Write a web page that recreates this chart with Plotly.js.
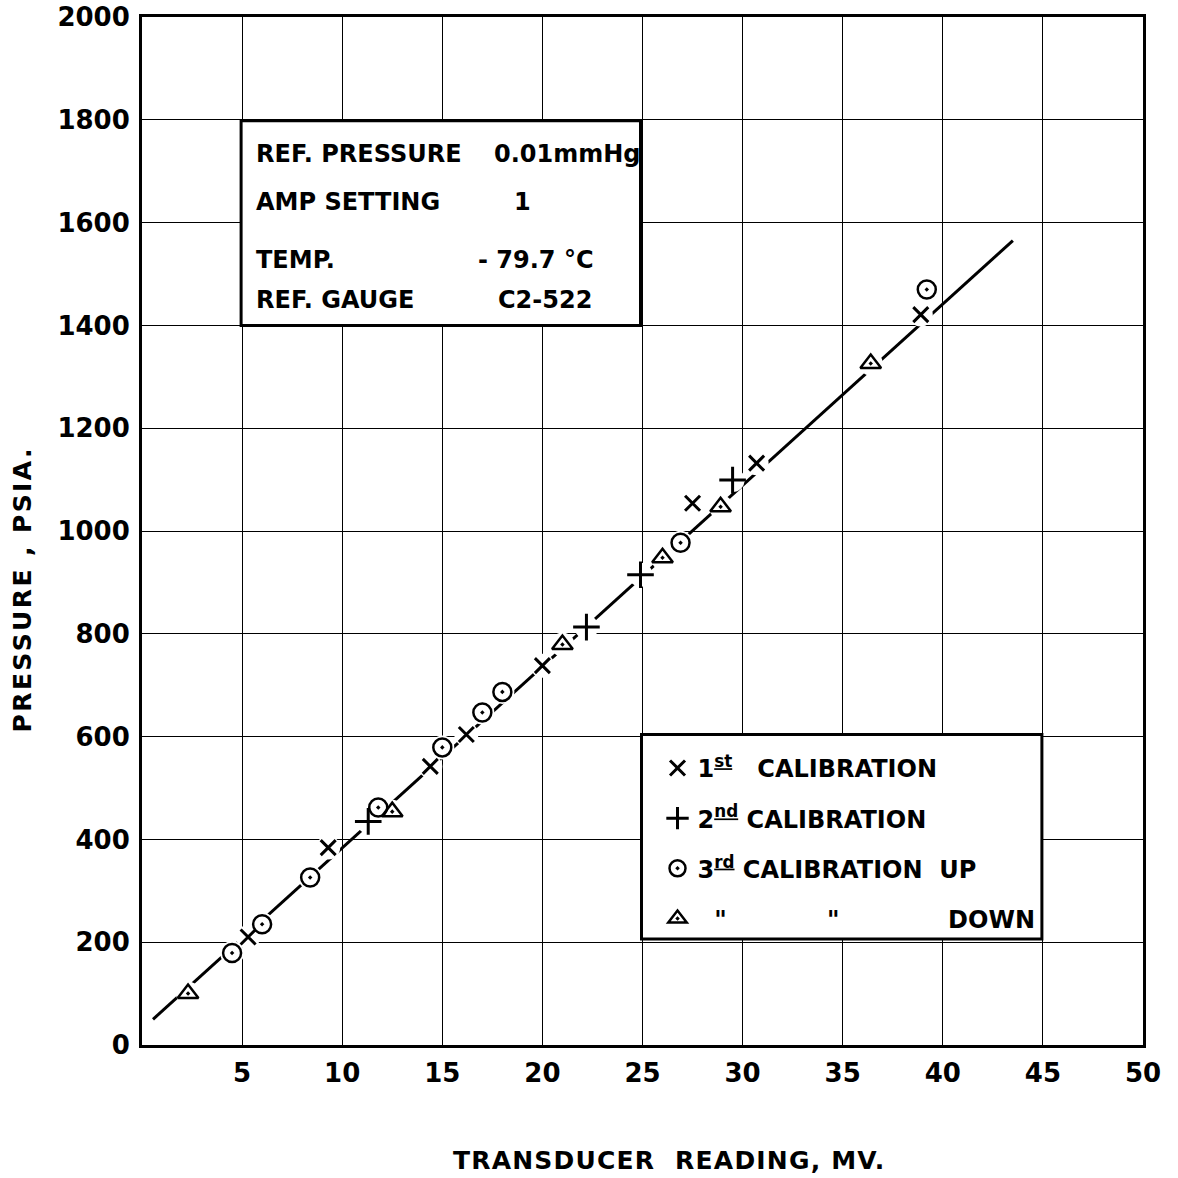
<!DOCTYPE html>
<html>
<head>
<meta charset="utf-8">
<script src="https://cdn.plot.ly/plotly-3.0.1.min.js"></script>
<style>
  html, body { margin: 0; padding: 0; background: #ffffff; }
  #chart { width: 1178px; height: 1178px; }
</style>
</head>
<body>
<div id="chart"></div>
<script>
// Calibration readings: transducer output (mV) against reference pressure (psia)
const cal1X = [5.3, 9.3, 14.4, 16.2, 20.0, 27.5, 30.7, 38.9];
const cal1Y = [210, 384, 542, 604, 738, 1054, 1132, 1421];

const cal2X = [11.3, 22.2, 24.9, 29.5];
const cal2Y = [435, 813, 915, 1099];

const upX = [4.5, 6.0, 8.4, 11.8, 15.0, 17.0, 18.0, 26.9, 39.2];
const upY = [179, 235, 326, 462, 579, 647, 687, 977, 1470];

const downX = [2.3, 12.5, 21.0, 26.0, 28.9, 36.4];
const downY = [100, 454, 779, 948, 1047, 1326];

// Straight calibration line, drawn between its two end points
const fitX = [0.55, 43.5];
const fitY = [50, 1565];

const xTicks = [5, 10, 15, 20, 25, 30, 35, 40, 45, 50];
const yTicks = [0, 200, 400, 600, 800, 1000, 1200, 1400, 1600, 1800, 2000];

const FONT = '"DejaVu Sans", "Liberation Sans", sans-serif';
const NB = '\u00a0';
const sp = n => NB.repeat(n);
const ord = s => '<sup><u>' + s + '</u></sup>';

const allX = cal1X.concat(cal2X, upX, downX);
const allY = cal1Y.concat(cal2Y, upY, downY);

const traces = [
  {
    x: fitX, y: fitY, mode: 'lines', type: 'scatter',
    line: { color: '#000', width: 3 }, showlegend: false, hoverinfo: 'skip'
  },
  // white halo that breaks the line around each plotted point
  {
    x: allX, y: allY, mode: 'markers', type: 'scatter',
    marker: { symbol: 'circle', size: 24, color: '#fff', line: { width: 0 } },
    showlegend: false, hoverinfo: 'skip'
  },
  {
    x: cal1X, y: cal1Y, mode: 'markers', type: 'scatter', legendgroup: 'a',
    name: '1' + ord('st') + sp(3) + 'CALIBRATION',
    marker: { symbol: 'x-thin-open', size: 15, color: '#000', line: { color: '#000', width: 3 } }
  },
  {
    x: cal2X, y: cal2Y, mode: 'markers', type: 'scatter', legendgroup: 'b',
    name: '2' + ord('nd') + sp(1) + 'CALIBRATION',
    marker: { symbol: 'cross-thin-open', size: 19, color: '#000', line: { color: '#000', width: 3 } }
  },
  {
    x: upX, y: upY, mode: 'markers', type: 'scatter', legendgroup: 'c',
    name: '3' + ord('rd') + sp(1) + 'CALIBRATION' + sp(2) + 'UP',
    marker: { symbol: 'circle-open-dot', size: 18, color: '#000', line: { color: '#000', width: 2.5 } }
  },
  {
    x: downX, y: downY, mode: 'markers', type: 'scatter', legendgroup: 'd',
    name: sp(2) + '"' + sp(12) + '"' + sp(13) + 'DOWN',
    marker: { symbol: 'triangle-up-open-dot', size: 18, color: '#000', line: { color: '#000', width: 2.5 } }
  }
];

const boxText = { family: FONT, size: 24, color: '#000', weight: 'bold' };

function note(x, y, text) {
  return { x: x, y: y, xref: 'x', yref: 'y', text: text, showarrow: false,
           xanchor: 'left', yanchor: 'middle', font: boxText };
}

const tickFont = { family: FONT, size: 26, color: '#000', weight: 'bold' };

const layout = {
  width: 1178, height: 1178,
  margin: { l: 142, r: 35, t: 17, b: 133 },
  paper_bgcolor: '#fff', plot_bgcolor: '#fff',
  showlegend: true,
  legend: {
    x: 0.515, y: 0.291, xanchor: 'left', yanchor: 'top',
    bgcolor: 'rgba(0,0,0,0)', borderwidth: 0,
    font: { family: FONT, size: 24, color: '#000', weight: 'bold' },
    tracegroupgap: 16, itemsizing: 'trace'
  },
  xaxis: {
    range: [0, 50], tickvals: xTicks, ticktext: xTicks.map(String),
    showgrid: true, gridcolor: '#000', gridwidth: 1,
    showline: true, linecolor: '#000', linewidth: 3, mirror: true,
    zeroline: false, ticks: '', ticklabelstandoff: 3,
    tickfont: tickFont
  },
  yaxis: {
    range: [0, 2000], tickvals: yTicks, ticktext: yTicks.map(String),
    showgrid: true, gridcolor: '#000', gridwidth: 1,
    showline: true, linecolor: '#000', linewidth: 3, mirror: true,
    zeroline: false, ticks: '', ticklabelstandoff: 4,
    tickfont: tickFont
  },
  shapes: [
    { type: 'rect', xref: 'x', yref: 'y', x0: 4.95, x1: 24.9, y0: 1400, y1: 1798,
      line: { color: '#000', width: 3 }, fillcolor: '#fff', layer: 'above' },
    { type: 'rect', xref: 'x', yref: 'y', x0: 24.95, x1: 44.95, y0: 206, y1: 604,
      line: { color: '#000', width: 3 }, fillcolor: '#fff', layer: 'above' }
  ],
  annotations: [
    note(5.6, 1734, 'REF. PRESSURE'),
    note(17.5, 1734, '0.01mmHg'),
    note(5.6, 1641, 'AMP SETTING'),
    note(18.5, 1641, '1'),
    note(5.6, 1528, 'TEMP.'),
    note(16.7, 1528, '- 79.7 °C'),
    note(5.6, 1449, 'REF. GAUGE'),
    note(17.7, 1449, 'C2-522'),
    { xref: 'paper', yref: 'paper', x: 0.526, y: -0.1126, xanchor: 'center', yanchor: 'middle',
      text: '<span style="letter-spacing:1.2px">TRANSDUCER' + sp(2) + 'READING, MV.</span>', showarrow: false,
      font: { family: FONT, size: 25, color: '#000', weight: 'bold' } },
    { xref: 'paper', yref: 'paper', x: -0.119, y: 0.443, xanchor: 'center', yanchor: 'middle',
      text: '<span style="letter-spacing:2.4px">PRESSURE , PSIA.</span>', showarrow: false, textangle: -90,
      font: { family: FONT, size: 25, color: '#000', weight: 'bold' } }
  ]
};

Plotly.newPlot('chart', traces, layout, { displayModeBar: false, staticPlot: true });
</script>
</body>
</html>
